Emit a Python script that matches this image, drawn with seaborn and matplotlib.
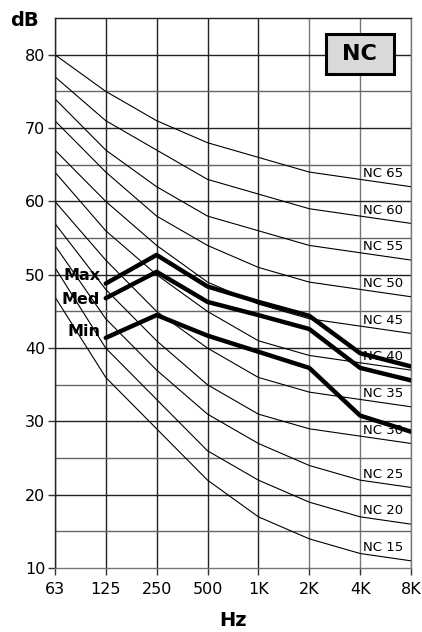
import numpy as np
import pandas as pd
import matplotlib
matplotlib.use("Agg")
import matplotlib.pyplot as plt
from matplotlib.patches import Rectangle
import seaborn as sns

# Octave bands
bands = ['63', '125', '250', '500', '1K', '2K', '4K', '8K']

# NC curves (dB per band)
nc_15 = [47, 36, 29, 22, 17, 14, 12, 11]
nc_20 = [51, 40, 33, 26, 22, 19, 17, 16]
nc_25 = [54, 44, 37, 31, 27, 24, 22, 21]
nc_30 = [57, 48, 41, 35, 31, 29, 28, 27]
nc_35 = [60, 52, 45, 40, 36, 34, 33, 32]
nc_40 = [64, 56, 50, 45, 41, 39, 38, 37]
nc_45 = [67, 60, 54, 49, 46, 44, 43, 42]
nc_50 = [71, 64, 58, 54, 51, 49, 48, 47]
nc_55 = [74, 67, 62, 58, 56, 54, 53, 52]
nc_60 = [77, 71, 67, 63, 61, 59, 58, 57]
nc_65 = [80, 75, 71, 68, 66, 64, 63, 62]
nc_names = ['NC 15', 'NC 20', 'NC 25', 'NC 30', 'NC 35', 'NC 40',
            'NC 45', 'NC 50', 'NC 55', 'NC 60', 'NC 65']
nc_curves = [nc_15, nc_20, nc_25, nc_30, nc_35, nc_40,
             nc_45, nc_50, nc_55, nc_60, nc_65]

# Measured levels (125 Hz .. 8K)
meas_bands = ['125', '250', '500', '1K', '2K', '4K', '8K']
max_db = [48.8, 52.7, 48.4, 46.3, 44.4, 39.3, 37.5]
med_db = [46.8, 50.4, 46.3, 44.5, 42.6, 37.3, 35.6]
min_db = [41.4, 44.5, 41.7, 39.5, 37.3, 30.8, 28.6]

sns.set_style("white")
plt.rcParams['font.family'] = ['DejaVu Sans']
plt.rcParams['text.color'] = 'black'
plt.rcParams['xtick.color'] = 'black'
plt.rcParams['ytick.color'] = 'black'

fig = plt.figure(figsize=(4.22, 6.32), dpi=100)
ax = fig.add_axes([0.130, 0.101, 0.844, 0.8705])

pos = {b: i for i, b in enumerate(bands)}

# grid
for i, b in enumerate(bands):
    c = '#222222' if i <= 4 else '#777777'
    ax.axvline(i, color=c, lw=1.0, zorder=1)
for y in range(15, 85, 5):
    c = '#222222' if y % 10 == 0 else '#666666'
    ax.axhline(y, color=c, lw=1.0, zorder=1)

# NC curves
nc_df = pd.DataFrame({
    'x': np.tile(np.arange(len(bands)), len(nc_curves)),
    'dB': np.concatenate(nc_curves),
    'curve': np.repeat(nc_names, len(bands)),
})
sns.lineplot(data=nc_df, x='x', y='dB', units='curve', estimator=None,
             color='black', lw=0.8, ax=ax, zorder=2)

for name, vals in zip(nc_names, nc_curves):
    ax.text(pos['4K'] + 0.05, vals[pos['4K']] + 0.8, name, fontsize=9.5,
            ha='left', va='center', color='black', zorder=3)

# measured lines
mx = [pos[b] for b in meas_bands]
for vals, lab, dy in [(max_db, 'Max', 1.1), (med_db, 'Med', -0.2), (min_db, 'Min', 0.8)]:
    sns.lineplot(x=mx, y=vals, color='black', lw=3.2, ax=ax, zorder=4)
    ax.text(mx[0] - 0.11, vals[0] + dy, lab, fontsize=11.5, fontweight='heavy',
            ha='right', va='center', zorder=5)

ax.set_xlim(0, 7)
ax.set_ylim(10, 85)
ax.set_xticks(range(len(bands)))
ax.set_xticklabels(bands)
ax.set_yticks(range(10, 90, 10))
ax.tick_params(axis='both', direction='out', length=5, width=1, color='#333333',
               labelsize=11.5, pad=2, bottom=True, left=True)
ax.tick_params(axis='x', pad=5)
ax.set_xlabel('')
ax.set_ylabel('')
for s in ['left', 'top']:
    ax.spines[s].set_color('#222222')
for s in ['right', 'bottom']:
    ax.spines[s].set_color('#777777')
for s in ax.spines.values():
    s.set_linewidth(1.0)

fig.text(10 / 422, 1 - 20 / 632, 'dB', fontsize=14, fontweight='heavy', ha='left', va='center')
fig.text(233 / 422, 1 - 620 / 632, 'Hz', fontsize=14, fontweight='heavy', ha='center', va='center')

# NC badge
ax.add_patch(Rectangle((0.761, 0.898), 0.191, 0.0727, transform=ax.transAxes,
                       facecolor='#d9d9d9', edgecolor='black', lw=2.2, zorder=6))
ax.text(0.8565, 0.9345, 'NC', transform=ax.transAxes, fontsize=16, fontweight='bold',
        ha='center', va='center', zorder=7)

fig.savefig('out.png', dpi=100)
